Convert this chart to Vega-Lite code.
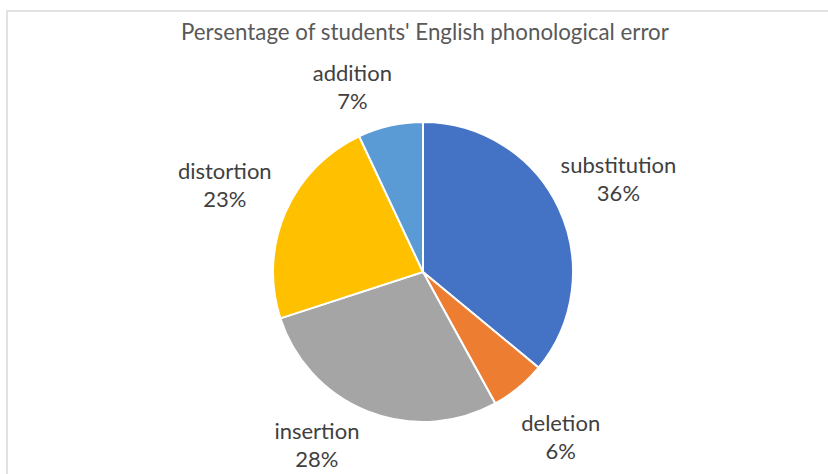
{
  "$schema": "https://vega.github.io/schema/vega-lite/v6.json",
  "autosize": {"type": "none"},
  "width": 832,
  "height": 522,
  "padding": {"left": 7, "top": 11, "right": -11, "bottom": -59},
  "background": "white",
  "view": {"stroke": "#D9D9D9", "strokeWidth": 1.5},
  "title": {
    "text": "Persentage of students' English phonological error",
    "font": "Lato",
    "fontSize": 22.3,
    "fontWeight": "normal",
    "color": "#595959",
    "anchor": "start",
    "frame": "group",
    "dx": 174,
    "dy": 23,
    "offset": -33,
    "baseline": "bottom"
  },
  "data": {
    "values": [
      {"category": "substitution", "value": 36, "pct": "36%", "idx": 1},
      {"category": "deletion", "value": 6, "pct": "6%", "idx": 2},
      {"category": "insertion", "value": 28, "pct": "28%", "idx": 3},
      {"category": "distortion", "value": 23, "pct": "23%", "idx": 4},
      {"category": "addition", "value": 7, "pct": "7%", "idx": 5}
    ]
  },
  "encoding": {
    "theta": {"field": "value", "type": "quantitative", "stack": true},
    "order": {"field": "idx", "type": "quantitative"}
  },
  "layer": [
    {
      "mark": {"type": "arc", "outerRadius": 150, "stroke": "white", "strokeWidth": 2},
      "encoding": {
        "color": {
          "field": "category",
          "type": "nominal",
          "legend": null,
          "scale": {
            "domain": ["substitution", "deletion", "insertion", "distortion", "addition"],
            "range": ["#4472C4", "#ED7D31", "#A5A5A5", "#FFC000", "#5B9BD5"]
          }
        }
      }
    },
    {
      "mark": {"type": "text", "radius": 216, "dy": -14, "font": "Lato", "fontSize": 22, "color": "#404040"},
      "encoding": {"text": {"condition": {"test": "datum.category == 'insertion' || datum.category == 'addition'", "value": ""}, "field": "category"}}
    },
    {
      "mark": {"type": "text", "radius": 216, "dy": 14, "font": "Lato", "fontSize": 22, "color": "#404040"},
      "encoding": {"text": {"condition": {"test": "datum.category == 'insertion' || datum.category == 'addition'", "value": ""}, "field": "pct"}}
    },
    {
      "mark": {"type": "text", "radius": 204, "thetaOffset": 0.17, "dy": -14, "font": "Lato", "fontSize": 22, "color": "#404040"},
      "encoding": {"text": {"condition": {"test": "datum.category != 'insertion'", "value": ""}, "field": "category"}}
    },
    {
      "mark": {"type": "text", "radius": 204, "thetaOffset": 0.17, "dy": 14, "font": "Lato", "fontSize": 22, "color": "#404040"},
      "encoding": {"text": {"condition": {"test": "datum.category != 'insertion'", "value": ""}, "field": "pct"}}
    },
    {
      "mark": {"type": "text", "radius": 197, "thetaOffset": -0.147, "dy": -14, "font": "Lato", "fontSize": 22, "color": "#404040"},
      "encoding": {"text": {"condition": {"test": "datum.category != 'addition'", "value": ""}, "field": "category"}}
    },
    {
      "mark": {"type": "text", "radius": 197, "thetaOffset": -0.147, "dy": 14, "font": "Lato", "fontSize": 22, "color": "#404040"},
      "encoding": {"text": {"condition": {"test": "datum.category != 'addition'", "value": ""}, "field": "pct"}}
    }
  ]
}
